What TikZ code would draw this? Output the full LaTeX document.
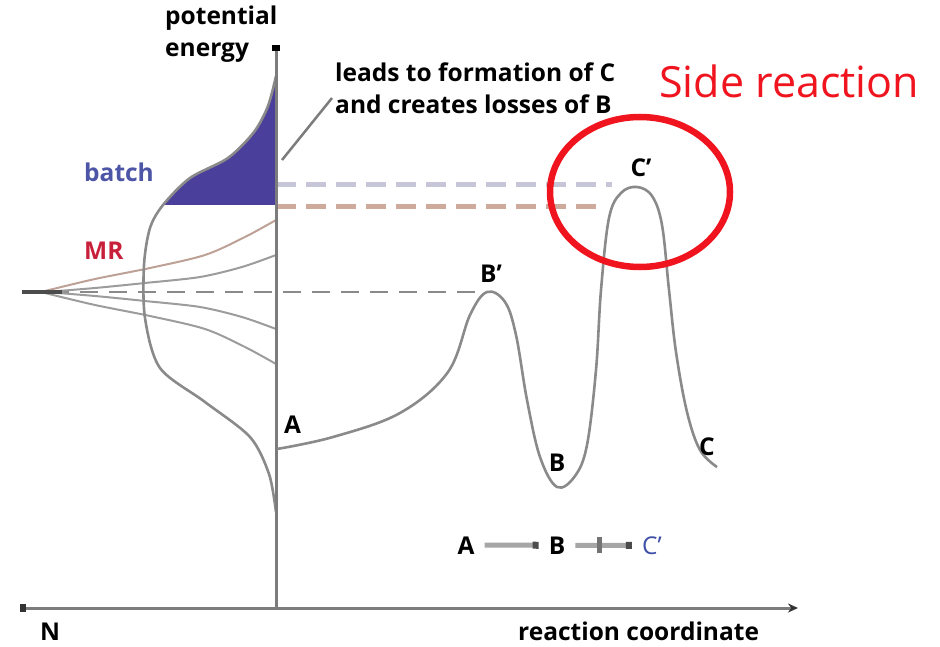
\documentclass[tikz,border=0pt]{standalone}
\usepackage{fontspec}
\setmainfont{Open Sans}
\usetikzlibrary{arrows.meta,shapes.geometric}
\definecolor{axisgray}{HTML}{7C7C7C}
\definecolor{curvegray}{HTML}{8A8A8A}
\definecolor{batchblue}{HTML}{4A3F9A}
\definecolor{batchtext}{HTML}{4D55A6}
\definecolor{mrred}{HTML}{C8203A}
\definecolor{lavdash}{HTML}{C6C6D8}
\definecolor{rosedash}{HTML}{CDAA9C}
\definecolor{sidered}{HTML}{F0141E}
\definecolor{cblue}{HTML}{3F4FA8}
\tikzset{
  lbl/.style={font=\bfseries\fontsize{24.5}{32}\selectfont, text=black, inner sep=0pt},
  axis/.style={draw=axisgray, line width=3pt},
  curve/.style={draw=curvegray, line width=2.6pt},
  mrcurve/.style={draw=curvegray!85, line width=2pt},
  dashlav/.style={draw=lavdash, line width=5pt, dash pattern=on 20pt off 10pt},
  dashrose/.style={draw=rosedash, line width=5pt, dash pattern=on 20pt off 10pt},
  dashgray/.style={draw=curvegray, line width=2.5pt, dash pattern=on 18pt off 11pt},
  schemearr/.style={draw=black!35, line width=5pt, -{Square[length=6pt,width=7pt,black!70]}, shorten <=10pt, shorten >=10pt},
}
\begin{document}
\begin{tikzpicture}[x=1pt,y=-1pt]
\useasboundingbox (0,0) rectangle (940,647);
% batch fill
\fill[batchblue] plot[smooth] coordinates {(276,76) (268,106) (254,132) (228,158) (190,178) (163,205)} -- (276,205) -- cycle;
% dashed energy levels
\coordinate (yL) at (276,185);
\coordinate (yR) at (612,185);
\draw[dashlav] (yL) -- (yR);
\coordinate (zL) at (276,207);
\coordinate (zR) at (606,207);
\draw[dashrose] (zL) -- (zR);
\coordinate (mL) at (22,292);
\coordinate (mR) at (482,292);
\draw[dashgray] (mL) -- (mR);
% MR distributions
\draw[mrcurve, draw=rosedash!80!gray] plot[smooth] coordinates {(276,220) (245,237) (205,255) (150,268) (95,279) (45,291)};
\draw[mrcurve] plot[smooth] coordinates {(276,255) (242,267) (200,277) (145,283) (95,288) (45,292)};
\draw[mrcurve] plot[smooth] coordinates {(276,329) (242,317) (200,307) (145,301) (95,296) (45,292)};
\draw[mrcurve] plot[smooth] coordinates {(276,364) (245,347) (205,329) (150,316) (95,305) (45,293)};
\coordinate (tipL) at (22,292);
\coordinate (tipR) at (62,292);
\draw[black!70, line width=3.5pt] (tipL) -- (tipR);
% batch distribution outline
\draw[curve] plot[smooth] coordinates {(276,76) (268,106) (254,132) (228,158) (190,178) (163,205) (150,228) (144,265) (145,318) (160,368) (205,402) (250,437) (269,474) (276,512)};
% axes
\coordinate (origin) at (276,608);
\coordinate (ytop) at (276,45);
\coordinate (xleft) at (20,608);
\coordinate (xright) at (798,608);
\draw[axis, -{Square[length=6pt,width=8pt,black]}] (origin) -- (ytop);
\draw[axis, -{Stealth[length=10pt,width=9pt,black!80]}] (origin) -- (xright);
\draw[axis, -{Square[length=6pt,width=8pt,black!80]}] (origin) -- (xleft);
% energy profile
\draw[curve] plot[smooth, tension=0.6] coordinates {(277,449) (333,437) (400,413) (448,372) (470,315) (487,292) (505,302) (516,335) (527,400) (540,457) (557,487) (575,476) (587,445) (596,370) (601,290) (609,218) (621,193) (637,187) (652,196) (662,225) (669,290) (676,352) (687,412) (700,450) (717,467)};
% labels
\node[lbl, anchor=north west, align=left] (pe) at (165,6) {potential\\energy};
\node[lbl, anchor=north west, align=left] (leads) at (335,63) {leads to formation of C\\and creates losses of B};
\coordinate (leadend) at (282,160);
\coordinate (leadstart) at (332,98);
\draw[draw=axisgray, line width=2.5pt] (leadstart) -- (leadend);
\node[lbl, text=batchtext, anchor=south west] (batch) at (84,182) {batch};
\node[lbl, text=mrred, anchor=south west] (mr) at (84,260) {MR};
\node[lbl, anchor=south] (Bp) at (491,283) {B’};
\node[lbl, anchor=south] (Cp) at (641,177) {C’};
\node[lbl, anchor=south west] (A) at (284,434) {A};
\node[lbl, anchor=south] (B) at (557,472) {B};
\node[lbl, anchor=south west] (C) at (699,456) {C};
\node[lbl, anchor=base west, text depth=0pt] (N) at (40,640) {N};
\node[lbl, anchor=base west, text depth=0pt] (rc) at (518,640) {reaction coordinate};
% scheme
\node[lbl, anchor=base] (sA) at (466,554) {A};
\node[lbl, anchor=base] (sB) at (557,554) {B};
\node[lbl, anchor=base, text=cblue, font=\fontsize{24.5}{32}\selectfont] (sC) at (652,554) {C’};
\draw[schemearr] (sA) -- (sB);
\draw[schemearr] (sB) -- node[fill=black!55, minimum width=5pt, minimum height=16pt, inner sep=0pt, pos=0.45] (cross) {} (sC);
% side reaction highlight
\node[draw=sidered, line width=6.5pt, ellipse, minimum width=180pt, minimum height=150pt, inner sep=0pt] (ring) at (640,192) {};
\node[text=sidered, font=\fontsize{43}{47}\selectfont, anchor=south west, inner sep=0pt] (side) at (659,98) {Side reaction};
\end{tikzpicture}
\end{document}
